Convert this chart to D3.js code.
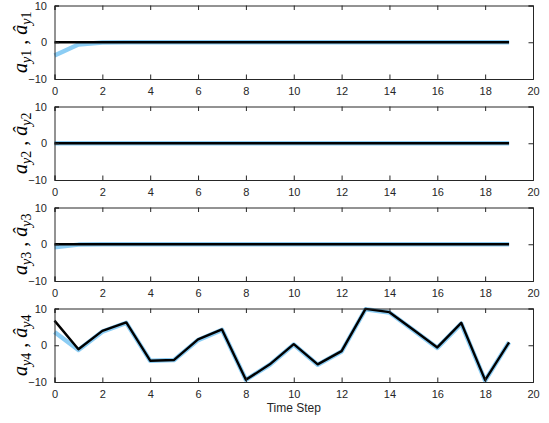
<!DOCTYPE html>
<html>
<head>
<meta charset="utf-8">
<script src="https://cdn.jsdelivr.net/npm/d3@7"></script>
<style>
  body { margin: 0; background: #fff; }
  svg { display: block; }
  .tick text { font-family: "Liberation Sans", Arial, sans-serif; font-size: 11px; fill: #262626; }
</style>
</head>
<body>
<svg id="chart" width="549" height="423"></svg>
<script>
// Time steps 0..19
const steps = d3.range(0, 20);

// True signals a_y1..a_y4
const trueY1 = [0,0,0,0,0,0,0,0,0,0,0,0,0,0,0,0,0,0,0,0];
const trueY2 = [0,0,0,0,0,0,0,0,0,0,0,0,0,0,0,0,0,0,0,0];
const trueY3 = [0,0,0,0,0,0,0,0,0,0,0,0,0,0,0,0,0,0,0,0];
const trueY4 = [6.7,-1.1,3.9,6.2,-4.2,-4.0,1.6,4.3,-9.4,-5.2,0.3,-5.2,-1.6,9.9,9.0,4.2,-0.6,6.1,-9.5,0.8];

// Estimated signals â_y1..â_y4
const estY1 = [-3.6,-0.6,-0.1,0,0,0,0,0,0,0,0,0,0,0,0,0,0,0,0,0];
const estY2 = [0,0,0,0,0,0,0,0,0,0,0,0,0,0,0,0,0,0,0,0];
const estY3 = [-0.8,-0.1,0,0,0,0,0,0,0,0,0,0,0,0,0,0,0,0,0,0];
const estY4 = [3.6,-1.3,3.7,6.1,-4.2,-4.0,1.4,4.2,-9.4,-5.3,0.2,-5.3,-1.7,9.8,8.9,4.1,-0.7,5.9,-9.6,0.8];

const xTicks = [0,2,4,6,8,10,12,14,16,18,20];
const yTicks = [-10,0,10];
const panelIndex = ["1","2","3","4"];

const panels = [
  {t: trueY1, e: estY1},
  {t: trueY2, e: estY2},
  {t: trueY3, e: estY3},
  {t: trueY4, e: estY4}
];

const svg = d3.select("#chart");
const left = 54.5, right = 533;
const tops = [5.5, 106.5, 207.5, 308.5];
const ph = 73.5;

const x = d3.scaleLinear().domain([0, 20]).range([left, right]);

panels.forEach((p, i) => {
  const top = tops[i], bottom = top + ph;
  const y = d3.scaleLinear().domain([-10, 10]).range([bottom, top]);
  const g = svg.append("g");

  // data lines: estimate (light blue) under truth (black)
  const line = d3.line().x((d, k) => x(steps[k])).y(d => y(d));
  g.append("path").datum(p.e).attr("d", line)
    .attr("fill", "none").attr("stroke", "#8ccdf4").attr("stroke-width", 4.5)
    .attr("stroke-linejoin", "round");
  g.append("path").datum(p.t).attr("d", line)
    .attr("fill", "none").attr("stroke", "#000").attr("stroke-width", 2.4)
    .attr("stroke-linejoin", "round");

  // axes with inward ticks on all four sides
  const tl = 4.5;
  g.append("g").attr("transform", `translate(0,${bottom})`)
    .call(d3.axisBottom(x).tickValues(xTicks).tickSize(-tl).tickPadding(tl + 4).tickFormat(d3.format("d")));
  g.append("g").attr("transform", `translate(0,${top})`)
    .call(d3.axisTop(x).tickValues(xTicks).tickSize(-tl).tickFormat(""));
  g.append("g").attr("transform", `translate(${left},0)`)
    .call(d3.axisLeft(y).tickValues(yTicks).tickSize(-tl).tickPadding(tl + 3).tickFormat(d3.format("d")));
  g.append("g").attr("transform", `translate(${right},0)`)
    .call(d3.axisRight(y).tickValues(yTicks).tickSize(-tl).tickFormat(""));
  g.selectAll(".domain").attr("stroke", "#262626").attr("stroke-width", 1);
  g.selectAll(".tick line").attr("stroke", "#262626").attr("stroke-width", 1);

  // y label: a_{yN} , â_{yN}
  const lbl = g.append("text")
    .attr("transform", `translate(27,${(top + bottom) / 2}) rotate(-90)`)
    .attr("text-anchor", "middle")
    .attr("font-family", "'Liberation Serif', 'DejaVu Serif', serif")
    .attr("font-size", 20)
    .attr("fill", "#000");
  lbl.append("tspan").attr("font-style", "italic").text("a");
  lbl.append("tspan").attr("font-style", "italic").attr("font-size", 14).attr("dy", 4).text("y");
  lbl.append("tspan").attr("font-size", 14).text(panelIndex[i]);
  lbl.append("tspan").attr("dy", -4).text(" , ");
  lbl.append("tspan").attr("font-style", "italic").text("\u00e2");
  lbl.append("tspan").attr("font-style", "italic").attr("font-size", 14).attr("dy", 4).text("y");
  lbl.append("tspan").attr("font-size", 14).text(panelIndex[i]);
});

svg.append("text")
  .attr("x", (left + right) / 2).attr("y", 412)
  .attr("text-anchor", "middle")
  .attr("font-family", "'Liberation Sans', Arial, sans-serif")
  .attr("font-size", 12).attr("fill", "#262626")
  .text("Time Step");
</script>
</body>
</html>
